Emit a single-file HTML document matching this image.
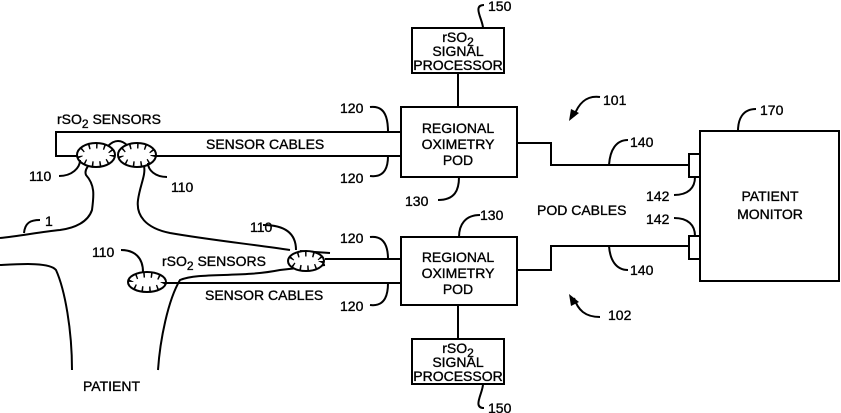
<!DOCTYPE html>
<html><head><style>
body{margin:0;background:#fff;}
svg{display:block}
text{font-family:"Liberation Sans",Arial,sans-serif;font-size:14px;fill:#000;stroke:#000;stroke-width:0.35}
</style></head><body>
<svg width="841" height="413" viewBox="0 0 841 413" xmlns="http://www.w3.org/2000/svg">
<g fill="none" stroke="#000" stroke-width="2">
<path d="M401,132 H56 V156 H78"/>
<path d="M156,156 H401"/>
<path d="M325,259 H401"/>
<path d="M166,283 H401"/>
<path d="M108,146 Q118,136 128,146"/>
<path d="M0,238 C20,236 40,232 60,230 C75,228 88,222 92,210 C94,195 95,185 86,175 C84,170 88,167 88,166"/>
<path d="M144,166 C146,175 140,185 138,200 C136,215 145,228 170,233 C210,240 250,244 290,250"/>
<path d="M0,265 C20,264 50,262 56,270 C65,290 72,330 72,370"/>
<path d="M158,370 C160,340 168,300 180,280 C200,272 240,278 280,270 L325,265"/>
<path d="M300,251 L330,253"/>
<ellipse cx="96" cy="155" rx="19" ry="12" fill="#fff"/>
<ellipse cx="137" cy="155" rx="19" ry="12" fill="#fff"/>
<ellipse cx="306" cy="261" rx="18" ry="10" fill="#fff"/>
<ellipse cx="147" cy="282" rx="19" ry="10" fill="#fff"/>
<rect x="412" y="28" width="92" height="45"/>
<rect x="401" y="107" width="116" height="70"/>
<rect x="401" y="237" width="116" height="68"/>
<rect x="412" y="339" width="92" height="45"/>
<rect x="700" y="131" width="139" height="150"/>
<rect x="689" y="154" width="11" height="23"/>
<rect x="689" y="236" width="11" height="23"/>
<path d="M458,73 V107 M458,305 V339"/>
<path d="M517,143 H551 V165 H689"/>
<path d="M517,270 H551 V246 H689"/>
<path d="M484,5 C472,5 483,20 483,28"/>
<path d="M484,408 C472,408 483,393 483,384"/>
<path d="M370,107 C386,105 388,120 388,132"/>
<path d="M370,176 C386,178 388,165 388,156"/>
<path d="M370,237 C386,235 388,250 388,259"/>
<path d="M370,305 C386,307 388,293 388,283"/>
<path d="M438,200 C455,200 459,190 459,177"/>
<path d="M480,215 C465,215 459,225 459,237"/>
<path d="M600,97 C585,95 578,105 574,116"/>
<path d="M628,140 C616,140 610,150 609,165"/>
<path d="M628,270 C616,270 610,260 609,246"/>
<path d="M600,317 C585,317 578,310 574,298"/>
<path d="M756,109 C742,109 738,120 738,131"/>
<path d="M674,195 C688,195 695,188 695,177"/>
<path d="M674,218 C688,218 695,225 695,236"/>
<path d="M59,176 C72,176 80,168 80,160"/>
<path d="M167,177 C155,177 148,170 148,163"/>
<path d="M24,233 C25,223 30,220 40,220"/>
<path d="M263,225 C280,225 296,230 296,250"/>
<path d="M121,250 C135,250 143,258 143,272"/>
</g>
<path d="M569,121 L579,113 L571,109 Z" fill="#000"/>
<path d="M569,294 L579,302 L571,306 Z" fill="#000"/>
<g fill="none" stroke="#000" stroke-width="5" stroke-dasharray="1.5 6">
<ellipse cx="96" cy="155" rx="16" ry="9"/>
<ellipse cx="137" cy="155" rx="16" ry="9"/>
<ellipse cx="306" cy="261" rx="15" ry="7"/>
<ellipse cx="147" cy="282" rx="16" ry="7"/>
</g>
<text x="57" y="124">rSO<tspan dy="4" font-size="12">2</tspan><tspan dy="-4"> SENSORS</tspan></text>
<text x="206" y="149">SENSOR CABLES</text>
<text x="162" y="266">rSO<tspan dy="4" font-size="12">2</tspan><tspan dy="-4"> SENSORS</tspan></text>
<text x="205" y="300">SENSOR CABLES</text>
<text x="83" y="391">PATIENT</text>
<text x="29" y="181">110</text>
<text x="171" y="192">110</text>
<text x="45" y="226">1</text>
<text x="250" y="232">110</text>
<text x="92" y="257">110</text>
<text x="340" y="113">120</text>
<text x="340" y="183">120</text>
<text x="340" y="243">120</text>
<text x="340" y="311">120</text>
<text x="405" y="206">130</text>
<text x="480" y="220">130</text>
<text x="488" y="11">150</text>
<text x="488" y="413">150</text>
<text x="603" y="105">101</text>
<text x="630" y="147">140</text>
<text x="630" y="275">140</text>
<text x="608" y="320">102</text>
<text x="760" y="115">170</text>
<text x="646" y="201">142</text>
<text x="646" y="224">142</text>
<text x="537" y="215">POD CABLES</text>
<g text-anchor="middle">
<text x="458" y="133">REGIONAL</text><text x="458" y="149">OXIMETRY</text><text x="458" y="165">POD</text>
<text x="458" y="262">REGIONAL</text><text x="458" y="278">OXIMETRY</text><text x="458" y="294">POD</text>
<text x="770" y="201">PATIENT</text><text x="770" y="219">MONITOR</text>
<text x="458" y="42">rSO<tspan dy="4" font-size="12">2</tspan></text><text x="458" y="56">SIGNAL</text><text x="458" y="70">PROCESSOR</text>
<text x="458" y="353">rSO<tspan dy="4" font-size="12">2</tspan></text><text x="458" y="367">SIGNAL</text><text x="458" y="381">PROCESSOR</text>
</g>
</svg>
</body></html>
